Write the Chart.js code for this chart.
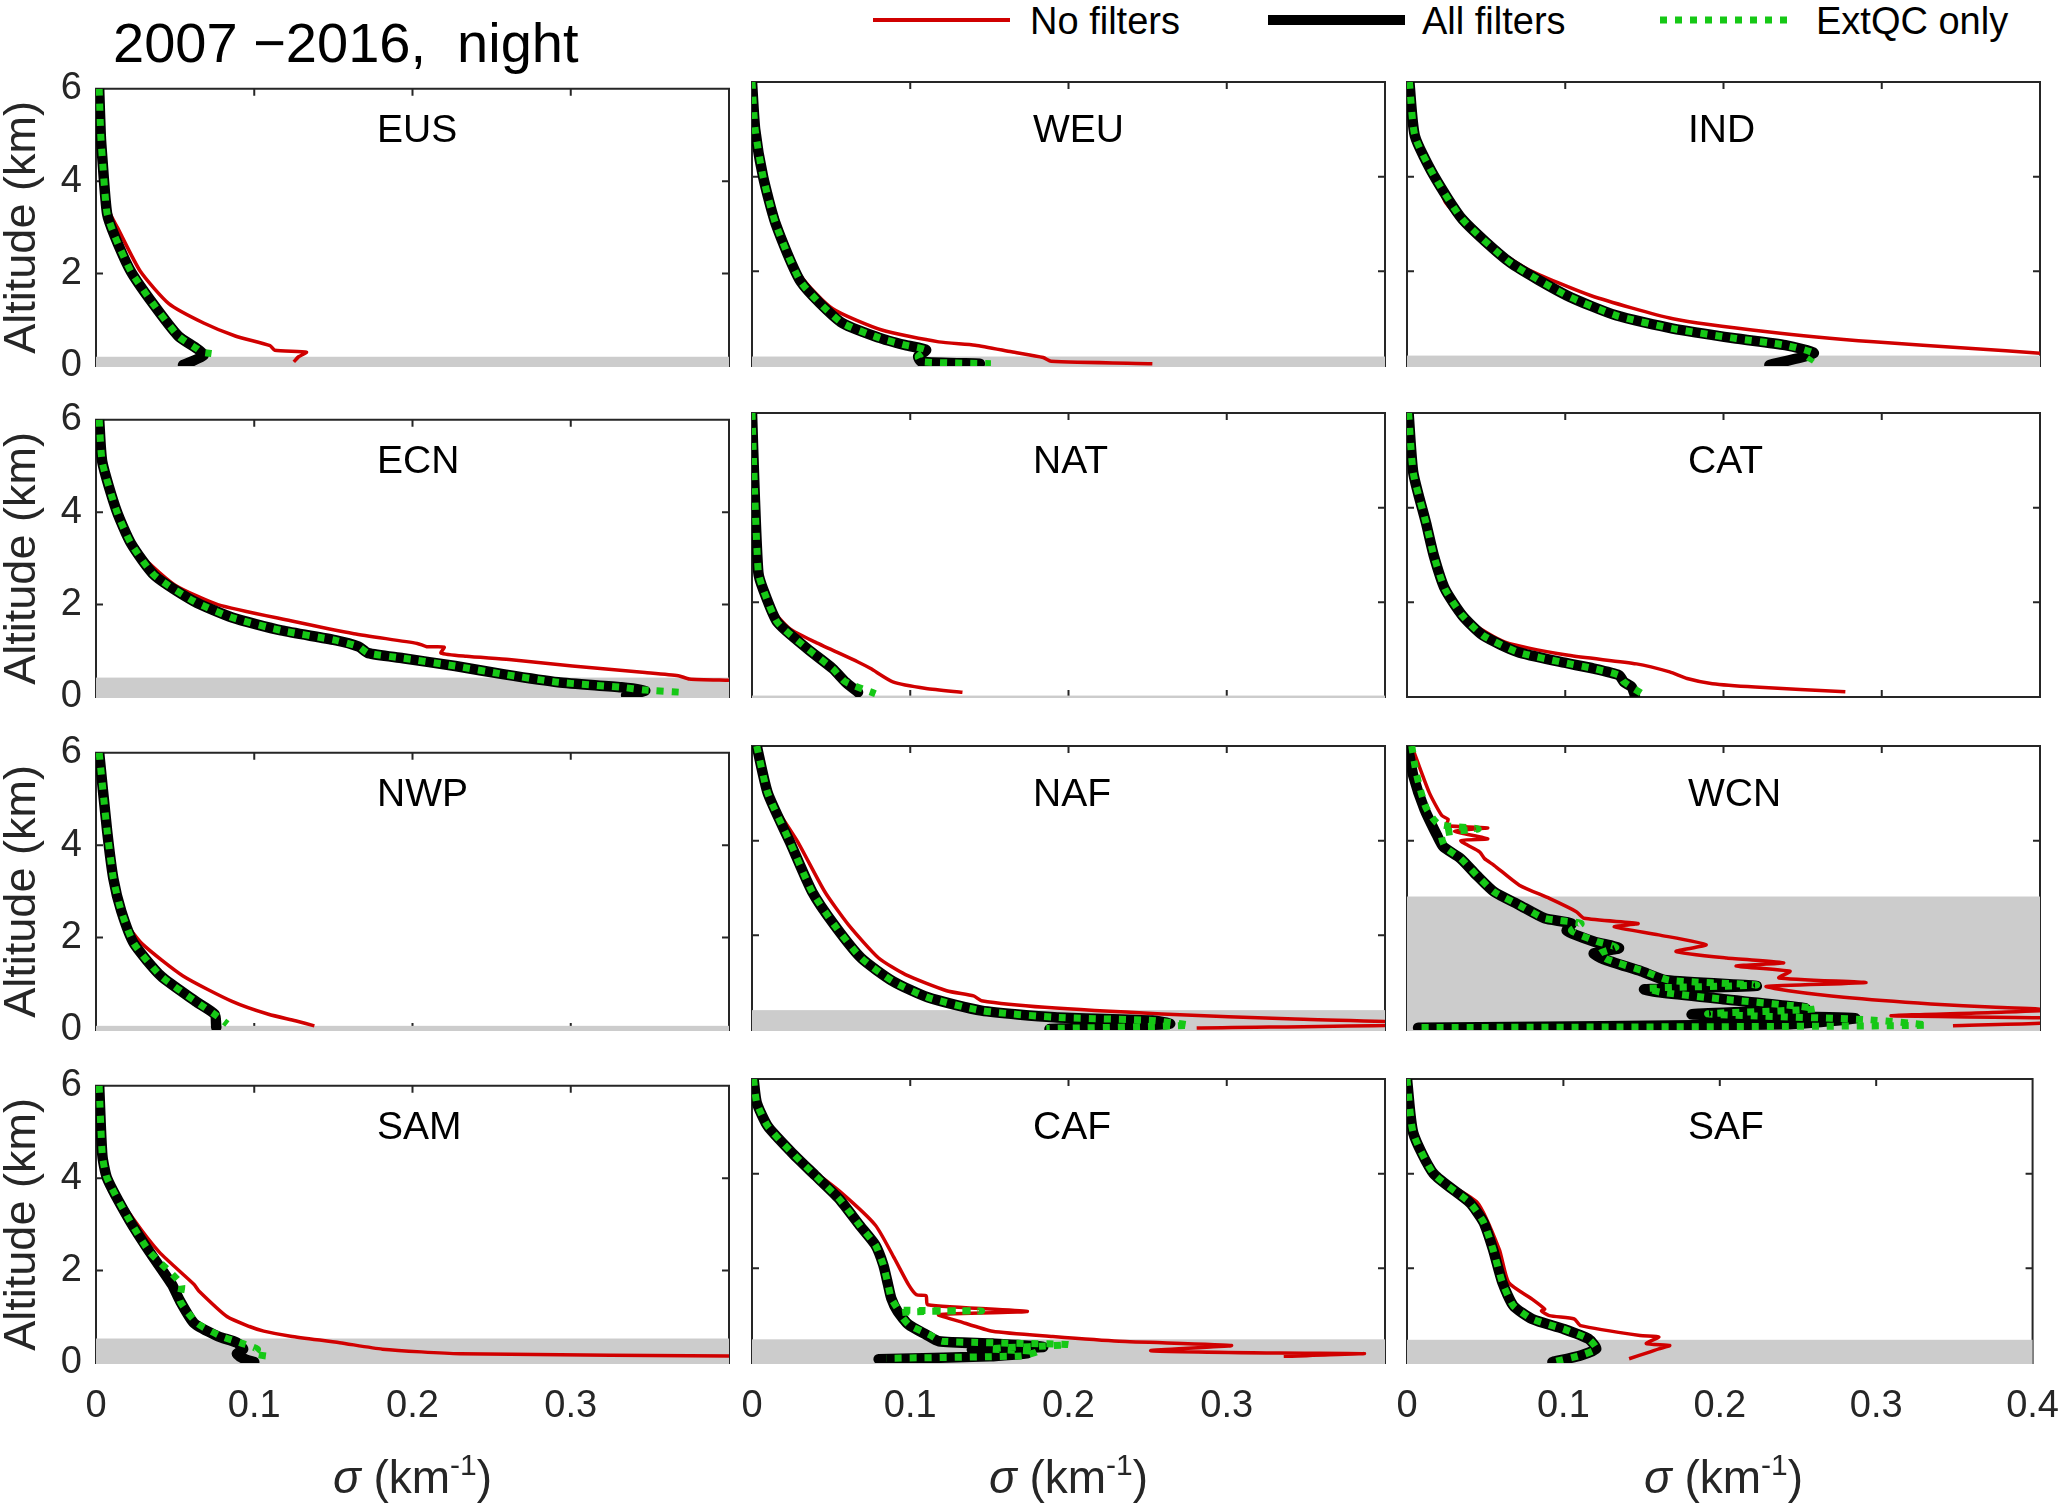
<!DOCTYPE html>
<html>
<head>
<meta charset="utf-8">
<script src="https://cdn.jsdelivr.net/npm/chart.js@4.4.1/dist/chart.umd.min.js"></script>
<style>
body { margin: 0; background: #fff; }
#fig { position: relative; width: 2067px; height: 1509px; overflow: hidden; font-family: 'Liberation Sans', Arial, sans-serif; color: #000; }
.panel { position: absolute; width: 769px; height: 404px; }
.name { position: absolute; font-size: 39px; line-height: 39px; white-space: nowrap; }
.xtitle { position: absolute; width: 400px; text-align: center; font-size: 46px; line-height: 46px; color: #262626; white-space: nowrap; }
.xtitle .sup { font-size: 30px; position: relative; top: -18px; }
.title { position: absolute; left: 113px; top: 15px; font-size: 56px; line-height: 56px; white-space: pre; }
.leg { position: absolute; top: 2px; font-size: 38px; line-height: 38px; white-space: nowrap; }
</style>
</head>
<body>
<div id="fig">
  <div class="title">2007 −2016,  night</div>
  <svg width="2067" height="60" style="position:absolute;left:0;top:0">
    <line x1="873" y1="20" x2="1010" y2="20" stroke="#d00000" stroke-width="4"/>
    <line x1="1268" y1="20" x2="1405" y2="20" stroke="#000" stroke-width="10"/>
    <line x1="1660" y1="20" x2="1794" y2="20" stroke="#16c816" stroke-width="7" stroke-dasharray="7 8"/>
  </svg>
  <div class="leg" style="left:1030px">No filters</div>
  <div class="leg" style="left:1422px">All filters</div>
  <div class="leg" style="left:1816px">ExtQC only</div>
</div>
<script>
// regions, surface band tops (km) and tick labels
const panelNames = ['EUS', 'WEU', 'IND', 'ECN', 'NAT', 'CAT', 'NWP', 'NAF', 'WCN', 'SAM', 'CAF', 'SAF'];
const bandTops = [0.2, 0.2, 0.22, 0.42, 0.03, 0, 0.09, 0.42, 2.82, 0.53, 0.5, 0.49];
const xTickLabels = ['0', '0.1', '0.2', '0.3', '0.4'];
const yTickLabels = ['0', '2', '4', '6'];

// profiles as [sigma (km-1), altitude (km)]
const eusNone = [[0.003,6],[0.003,5],[0.005,4],[0.009,3.3],[0.0135,3.0],[0.028,2.05],[0.046,1.35],[0.068,0.93],[0.088,0.65],[0.110,0.44],[0.113,0.34],[0.133,0.30],[0.128,0.2],[0.125,0.09]];
const eusAll = [[0.002,6],[0.003,5],[0.004,4.5],[0.007,3.3],[0.012,2.8],[0.022,2.05],[0.036,1.35],[0.052,0.65],[0.064,0.37],[0.068,0.23],[0.055,0.02]];
const eusExt = [[0.002,6],[0.003,5],[0.004,4.5],[0.007,3.3],[0.012,2.8],[0.022,2.05],[0.036,1.35],[0.052,0.65],[0.064,0.37],[0.067,0.3],[0.073,0.27]];

const weuNone = [[0,6],[0.002,5],[0.008,4],[0.017,3],[0.031,1.9],[0.051,1.21],[0.082,0.76],[0.118,0.51],[0.141,0.44],[0.164,0.30],[0.184,0.18],[0.189,0.1],[0.253,0.05]];
const weuAll = [[0,6],[0.002,5],[0.007,4],[0.015,3],[0.031,1.77],[0.056,0.93],[0.080,0.6],[0.097,0.44],[0.110,0.34],[0.105,0.2],[0.107,0.09],[0.144,0.05]];
const weuExt = [[0,6],[0.002,5],[0.007,4],[0.015,3],[0.031,1.77],[0.056,0.93],[0.080,0.6],[0.097,0.44],[0.110,0.34],[0.105,0.2],[0.107,0.09],[0.151,0.05]];

const indNone = [[0.0015,6],[0.005,4.86],[0.018,4.02],[0.0245,3.45],[0.045,2.75],[0.076,2.05],[0.116,1.49],[0.168,1.0],[0.229,0.72],[0.295,0.51],[0.357,0.37],[0.40,0.27]];
const indAll = [[0.0015,6],[0.005,4.86],[0.017,4.02],[0.035,3.1],[0.065,2.19],[0.101,1.49],[0.132,1.07],[0.168,0.79],[0.208,0.58],[0.239,0.44],[0.257,0.27],[0.229,0.02]];
const indExt = [[0.0015,6],[0.005,4.86],[0.017,4.02],[0.035,3.1],[0.065,2.19],[0.101,1.49],[0.132,1.07],[0.168,0.79],[0.208,0.58],[0.239,0.44],[0.257,0.27],[0.254,0.09]];

const ecnNone = [[0.002,6],[0.004,5.08],[0.013,4.03],[0.022,3.4],[0.031,2.98],[0.050,2.42],[0.077,2.0],[0.123,1.65],[0.163,1.37],[0.203,1.16],[0.209,1.09],[0.22,1.08],[0.218,0.95],[0.234,0.88],[0.261,0.81],[0.301,0.67],[0.347,0.53],[0.368,0.46],[0.375,0.39],[0.40,0.36]];
const ecnAll = [[0.002,6],[0.004,5.08],[0.013,4.03],[0.022,3.33],[0.037,2.63],[0.062,2.07],[0.086,1.72],[0.117,1.44],[0.151,1.23],[0.166,1.09],[0.172,0.95],[0.194,0.84],[0.227,0.67],[0.258,0.49],[0.292,0.32],[0.332,0.21],[0.347,0.14],[0.335,0.04]];
const ecnExt = [[0.002,6],[0.004,5.08],[0.013,4.03],[0.022,3.33],[0.037,2.63],[0.062,2.07],[0.086,1.72],[0.117,1.44],[0.151,1.23],[0.166,1.09],[0.172,0.95],[0.194,0.84],[0.227,0.67],[0.258,0.49],[0.292,0.32],[0.332,0.21],[0.347,0.15],[0.371,0.1]];

const natNone = [[0,6],[0.0016,4.38],[0.004,2.63],[0.011,1.93],[0.024,1.44],[0.040,1.16],[0.067,0.74],[0.075,0.6],[0.089,0.32],[0.110,0.18],[0.133,0.1]];
const natAll = [[0,6],[0.0016,4.38],[0.004,2.63],[0.007,2.28],[0.016,1.58],[0.035,1.02],[0.051,0.6],[0.059,0.32],[0.067,0.1]];
const natExt = [[0,6],[0.0016,4.38],[0.004,2.63],[0.007,2.28],[0.016,1.58],[0.035,1.02],[0.051,0.6],[0.059,0.32],[0.078,0.07]];

const catNone = [[0.001,6],[0.004,4.73],[0.012,3.68],[0.017,2.98],[0.024,2.28],[0.027,2.0],[0.040,1.58],[0.062,1.16],[0.102,0.88],[0.145,0.7],[0.166,0.53],[0.177,0.39],[0.193,0.28],[0.220,0.21],[0.277,0.11]];
const catAll = [[0.001,6],[0.004,4.73],[0.012,3.68],[0.017,2.98],[0.024,2.28],[0.035,1.72],[0.048,1.3],[0.070,0.95],[0.097,0.74],[0.118,0.6],[0.134,0.46],[0.137,0.32],[0.142,0.21],[0.144,0.04]];
const catExt = [[0.001,6],[0.004,4.73],[0.012,3.68],[0.017,2.98],[0.024,2.28],[0.035,1.72],[0.048,1.3],[0.070,0.95],[0.097,0.74],[0.118,0.6],[0.134,0.46],[0.137,0.32],[0.150,0.04]];

const nwpNone = [[0.002,6],[0.007,4.32],[0.011,3.27],[0.016,2.57],[0.018,2.36],[0.029,1.87],[0.055,1.17],[0.086,0.62],[0.109,0.34],[0.126,0.2],[0.138,0.09]];
const nwpAll = [[0.002,6],[0.007,4.32],[0.011,3.27],[0.016,2.57],[0.024,1.87],[0.041,1.17],[0.063,0.62],[0.075,0.34],[0.076,0.06]];
const nwpExt = [[0.002,6],[0.007,4.32],[0.011,3.27],[0.016,2.57],[0.024,1.87],[0.041,1.17],[0.063,0.62],[0.075,0.34],[0.083,0.13]];

const nafNone = [[0.003,6],[0.010,5.0],[0.029,3.97],[0.046,2.92],[0.061,2.22],[0.080,1.52],[0.097,1.17],[0.123,0.83],[0.140,0.72],[0.145,0.62],[0.185,0.48],[0.259,0.34],[0.343,0.23],[0.45,0.13],[0.281,0.04]];
const nafAll = [[0.003,6],[0.010,5.0],[0.024,3.97],[0.038,2.92],[0.052,2.22],[0.069,1.52],[0.089,1.03],[0.111,0.69],[0.145,0.41],[0.191,0.27],[0.253,0.2],[0.264,0.13],[0.188,0.02]];
const nafExt = [[0.003,6],[0.010,5.0],[0.024,3.97],[0.038,2.92],[0.052,2.22],[0.069,1.52],[0.089,1.03],[0.111,0.69],[0.145,0.41],[0.191,0.27],[0.253,0.2],[0.276,0.1],[0.186,0.03]];

const wcnNone = [[0.003,6],[0.014,5.02],[0.022,4.53],[0.026,4.45],[0.025,4.32],[0.051,4.27],[0.030,4.2],[0.051,4.04],[0.034,4.0],[0.046,3.76],[0.049,3.62],[0.055,3.48],[0.071,3.06],[0.090,2.78],[0.107,2.5],[0.112,2.36],[0.146,2.25],[0.131,2.18],[0.159,2.01],[0.189,1.8],[0.170,1.66],[0.202,1.52],[0.238,1.42],[0.208,1.35],[0.242,1.24],[0.235,1.1],[0.290,1.0],[0.227,0.92],[0.241,0.83],[0.276,0.69],[0.331,0.55],[0.372,0.48],[0.41,0.42],[0.37,0.37],[0.306,0.3],[0.41,0.25],[0.41,0.16],[0.345,0.09]];
const wcnAll = [[0.0005,6],[0.004,5.37],[0.011,4.67],[0.019,4.11],[0.023,3.87],[0.034,3.62],[0.044,3.27],[0.055,2.92],[0.071,2.64],[0.087,2.36],[0.104,2.25],[0.101,2.1],[0.118,1.87],[0.134,1.73],[0.118,1.62],[0.124,1.5],[0.148,1.24],[0.164,1.05],[0.221,0.93],[0.150,0.86],[0.158,0.8],[0.2,0.65],[0.252,0.45],[0.18,0.33],[0.283,0.25],[0.24,0.12],[0.007,0.05]];
const wcnExt = [[0.003,6],[0.006,5.4],[0.012,4.7],[0.02,4.35],[0.045,4.25],[0.022,4.15],[0.024,3.87],[0.034,3.62],[0.044,3.27],[0.055,2.92],[0.071,2.64],[0.087,2.36],[0.11,2.25],[0.104,2.1],[0.12,1.87],[0.132,1.75],[0.122,1.62],[0.126,1.5],[0.15,1.24],[0.166,1.05],[0.221,0.95],[0.152,0.88],[0.16,0.8],[0.2,0.65],[0.258,0.45],[0.19,0.34],[0.29,0.22],[0.328,0.1],[0.007,0.05]];

const samNone = [[0.002,6],[0.004,4.5],[0.008,3.95],[0.024,3.1],[0.040,2.4],[0.062,1.7],[0.065,1.56],[0.083,1.0],[0.097,0.79],[0.106,0.69],[0.123,0.58],[0.154,0.44],[0.181,0.30],[0.230,0.2],[0.42,0.15]];
const samAll = [[0.002,6],[0.004,4.5],[0.007,4.0],[0.021,3.1],[0.034,2.4],[0.048,1.7],[0.053,1.35],[0.062,0.86],[0.077,0.58],[0.089,0.44],[0.093,0.3],[0.089,0.2],[0.093,0.1],[0.100,0.02]];
const samExt = [[0.002,6],[0.004,4.5],[0.007,4.0],[0.021,3.1],[0.034,2.4],[0.054,1.7],[0.053,1.35],[0.064,0.86],[0.079,0.58],[0.091,0.44],[0.102,0.3],[0.100,0.2],[0.112,0.13]];

const cafNone = [[0.001,6],[0.003,5.5],[0.012,5.0],[0.030,4.3],[0.056,3.61],[0.078,2.91],[0.090,2.21],[0.099,1.65],[0.104,1.44],[0.110,1.42],[0.111,1.23],[0.174,1.09],[0.118,1.02],[0.131,0.88],[0.152,0.67],[0.190,0.56],[0.232,0.46],[0.303,0.37],[0.252,0.26],[0.333,0.21],[0.387,0.2],[0.336,0.14]];
const cafAll = [[0.001,6],[0.003,5.5],[0.010,5.0],[0.025,4.45],[0.040,3.96],[0.055,3.47],[0.068,2.91],[0.078,2.49],[0.083,2.07],[0.086,1.65],[0.088,1.37],[0.092,1.09],[0.099,0.81],[0.110,0.6],[0.118,0.46],[0.152,0.41],[0.184,0.34],[0.139,0.28],[0.174,0.21],[0.150,0.14],[0.080,0.08]];
const cafExt = [[0.001,6],[0.003,5.5],[0.010,5.0],[0.025,4.45],[0.040,3.96],[0.055,3.47],[0.068,2.91],[0.078,2.49],[0.083,2.07],[0.086,1.65],[0.088,1.37],[0.091,1.2],[0.093,1.12],[0.145,1.1],[0.094,1.06],[0.099,0.81],[0.112,0.6],[0.12,0.46],[0.2,0.39],[0.15,0.3],[0.18,0.24],[0.17,0.15],[0.085,0.1]];

const safNone = [[0,6],[0.004,4.86],[0.017,4.0],[0.045,3.39],[0.059,2.4],[0.065,1.7],[0.080,1.35],[0.088,1.14],[0.086,1.1],[0.091,1.0],[0.107,0.93],[0.111,0.79],[0.149,0.58],[0.161,0.55],[0.153,0.41],[0.168,0.37],[0.161,0.3],[0.155,0.23],[0.142,0.09]];
const safAll = [[0,6],[0.004,4.86],[0.017,4.0],[0.040,3.39],[0.049,2.97],[0.055,2.4],[0.061,1.7],[0.068,1.21],[0.080,0.93],[0.100,0.72],[0.116,0.51],[0.121,0.3],[0.111,0.16],[0.093,0.02]];
const safExt = [[0,6],[0.004,4.86],[0.017,4.0],[0.040,3.39],[0.049,2.97],[0.055,2.4],[0.061,1.7],[0.068,1.21],[0.080,0.93],[0.100,0.72],[0.116,0.51],[0.121,0.3],[0.111,0.16],[0.093,0.02]];

const noFilters = [eusNone, weuNone, indNone, ecnNone, natNone, catNone, nwpNone, nafNone, wcnNone, samNone, cafNone, safNone];
const allFilters = [eusAll, weuAll, indAll, ecnAll, natAll, catAll, nwpAll, nafAll, wcnAll, samAll, cafAll, safAll];
const extQC = [eusExt, weuExt, indExt, ecnExt, natExt, catExt, nwpExt, nafExt, wcnExt, samExt, cafExt, safExt];

// plot-area layout (px)
const colLeft = [96, 752, 1407];
const rowTop = [82, 413, 746, 1079];
const PW = 633, PH = 284, PAD_L = 96, PAD_T = 30, PAD_R = 40, PAD_B = 90;

Chart.defaults.font.family = "'Liberation Sans', Arial, sans-serif";
Chart.defaults.color = '#262626';

// axes box, inward ticks and the grey surface band
const frame = {
    id: 'frame',
    beforeDatasetsDraw(chart, args, opts) {
        const {ctx, chartArea: a, scales: {x, y}} = chart;
        ctx.save();
        ctx.strokeStyle = '#262626';
        ctx.lineWidth = 2;
        ctx.beginPath();
        x.ticks.forEach(t => {
            const p = x.getPixelForValue(t.value);
            ctx.moveTo(p, a.top); ctx.lineTo(p, a.top + 7);
            ctx.moveTo(p, a.bottom); ctx.lineTo(p, a.bottom - 7);
        });
        y.ticks.forEach(t => {
            const p = y.getPixelForValue(t.value);
            ctx.moveTo(a.left, p); ctx.lineTo(a.left + 7, p);
            ctx.moveTo(a.right, p); ctx.lineTo(a.right - 7, p);
        });
        ctx.rect(a.left, a.top, a.right - a.left, a.bottom - a.top);
        ctx.stroke();
        if (opts.band > 0) {
            const yb = y.getPixelForValue(opts.band);
            ctx.fillStyle = '#cccccc';
            ctx.fillRect(a.left, yb, a.right - a.left, a.bottom - yb + 1);
        }
        ctx.restore();
    }
};

const toXY = pts => pts.map(p => ({x: p[0], y: p[1]}));
const fig = document.getElementById('fig');

panelNames.forEach((name, i) => {
    const row = Math.floor(i / 3), col = i % 3;
    const L = colLeft[col], T = rowTop[row];

    const box = document.createElement('div');
    box.className = 'panel';
    box.style.left = (L - PAD_L) + 'px';
    box.style.top = (T - PAD_T) + 'px';
    const canvas = document.createElement('canvas');
    box.appendChild(canvas);
    fig.appendChild(box);

    const label = document.createElement('div');
    label.className = 'name';
    label.textContent = name;
    label.style.left = (L + 281) + 'px';
    label.style.top = (T + 27) + 'px';
    fig.appendChild(label);

    const common = {showLine: true, pointRadius: 0, fill: false, clip: 0, tension: 0.2};
    const config = {
        type: 'scatter',
        data: {
            datasets: [
                {...common, label: 'No filters', data: toXY(noFilters[i]), borderColor: '#d00000', borderWidth: 3.5, order: 3},
                {...common, label: 'All filters', data: toXY(allFilters[i]), borderColor: '#000000', borderWidth: 10.5, order: 2,
                    borderJoinStyle: 'round', borderCapStyle: 'round'},
                {...common, label: 'ExtQC only', data: toXY(extQC[i]), borderColor: '#16c816', borderWidth: 7, borderDash: [7, 8], order: 1}
            ]
        },
        options: {
            responsive: true,
            maintainAspectRatio: false,
            animation: false,
            events: [],
            layout: {padding: {top: PAD_T, right: PAD_R, left: 0, bottom: 0}},
            plugins: {legend: {display: false}, tooltip: {enabled: false}, frame: {band: bandTops[i]}},
            scales: {
                x: {
                    type: 'linear', min: 0, max: 0.4,
                    grid: {display: false, drawTicks: false},
                    border: {display: false},
                    ticks: {
                        display: row === 3, stepSize: 0.1, maxRotation: 0, padding: 21,
                        font: {size: 38},
                        callback: (v, idx) => (col < 2 && idx === 4) ? '' : xTickLabels[idx]
                    },
                    afterFit: s => { s.height = PAD_B; }
                },
                y: {
                    type: 'linear', min: 0, max: 6,
                    grid: {display: false, drawTicks: false},
                    border: {display: false},
                    ticks: {
                        display: col === 0, stepSize: 2, padding: 14,
                        font: {size: 38},
                        callback: (v, idx) => yTickLabels[idx]
                    },
                    title: {display: col === 0, text: 'Altitude (km)', font: {size: 45, lineHeight: 1}, padding: 0},
                    afterFit: s => { s.width = PAD_L; }
                }
            }
        },
        plugins: [frame]
    };
    new Chart(canvas, config);
});

// x axis titles under the bottom row
colLeft.forEach(L => {
    const t = document.createElement('div');
    t.className = 'xtitle';
    t.innerHTML = '<i>σ</i> (km<span class="sup">-1</span>)';
    t.style.left = (L + PW / 2 - 200) + 'px';
    t.style.top = '1454px';
    fig.appendChild(t);
});
</script>
</body>
</html>
